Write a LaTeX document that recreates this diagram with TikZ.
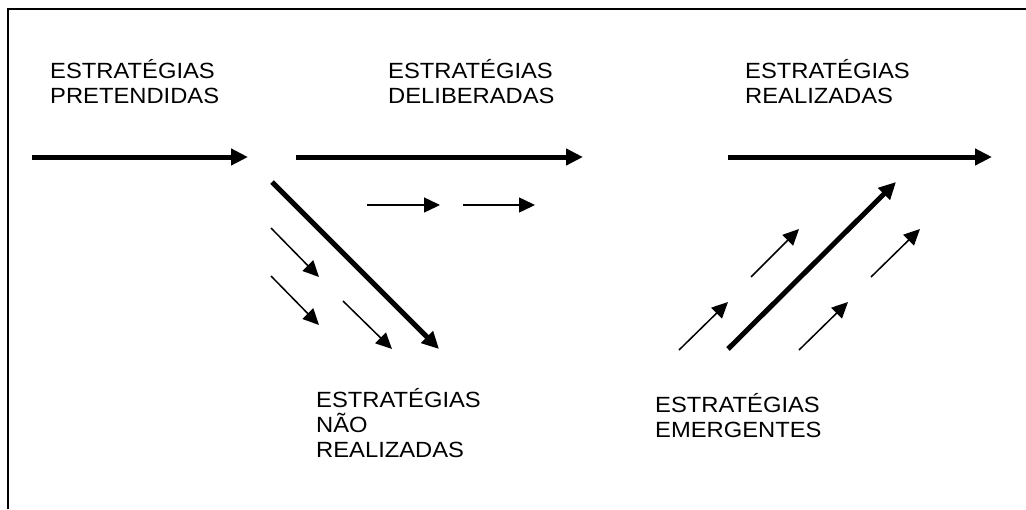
\documentclass[tikz,border=0pt]{standalone}
\usepackage{fontspec}
\setmainfont{Liberation Sans}[FakeStretch=1.08]
\usetikzlibrary{arrows.meta}
\tikzset{
  thickarrow/.style={line width=5pt,-{Triangle[length=17pt,width=16pt]}},
  thinarrow/.style={line width=1.5pt,-{Triangle[length=16pt,width=15pt]}},
  frameline/.style={line width=2pt},
  label/.style={anchor=base west,inner sep=0pt,align=left,font=\fontsize{22}{25}\selectfont}
}
\begin{document}
\begin{tikzpicture}[x=1pt,y=-1pt]
\useasboundingbox (0,0) rectangle (1026,509);
% frame
\coordinate (f1) at (7.5,509);
\coordinate (f2) at (7.5,9);
\coordinate (f3) at (1026,9);
\draw[frameline] (f1) -- (f2) -- (f3);
% labels (base anchor = baseline of the last line)
\node[label] (lp) at (50,103) {ESTRATÉGIAS\\PRETENDIDAS};
\node[label] (ld) at (388,103) {ESTRATÉGIAS\\DELIBERADAS};
\node[label] (lr) at (745,103) {ESTRATÉGIAS\\REALIZADAS};
\node[label] (ln) at (316,457) {ESTRATÉGIAS\\NÃO\\REALIZADAS};
\node[label] (le) at (655,437) {ESTRATÉGIAS\\EMERGENTES};
% thick horizontal arrows
\coordinate (a1s) at (32,157);  \coordinate (a1e) at (248,157);
\coordinate (a2s) at (296,157); \coordinate (a2e) at (583,157);
\coordinate (a3s) at (728,157); \coordinate (a3e) at (992,157);
\draw[thickarrow] (a1s) -- (a1e);
\draw[thickarrow] (a2s) -- (a2e);
\draw[thickarrow] (a3s) -- (a3e);
% unrealized
\coordinate (d0s) at (272,182); \coordinate (d0e) at (439,349);
\draw[thickarrow] (d0s) -- (d0e);
\coordinate (d1s) at (271,228); \coordinate (d1e) at (319,277);
\coordinate (d2s) at (271,276); \coordinate (d2e) at (319,325);
\coordinate (d3s) at (343,301); \coordinate (d3e) at (392,349);
\draw[thinarrow] (d1s) -- (d1e);
\draw[thinarrow] (d2s) -- (d2e);
\draw[thinarrow] (d3s) -- (d3e);
% thin horizontals
\coordinate (h1s) at (367,205); \coordinate (h1e) at (440,205);
\coordinate (h2s) at (463,205); \coordinate (h2e) at (535,205);
\draw[thinarrow] (h1s) -- (h1e);
\draw[thinarrow] (h2s) -- (h2e);
% emergent
\coordinate (u0s) at (728,349); \coordinate (u0e) at (896,182);
\draw[thickarrow] (u0s) -- (u0e);
\coordinate (u1s) at (679,350); \coordinate (u1e) at (728,302);
\coordinate (u2s) at (751,277); \coordinate (u2e) at (799,229);
\coordinate (u3s) at (799,350); \coordinate (u3e) at (848,302);
\coordinate (u4s) at (871,277); \coordinate (u4e) at (920,229);
\draw[thinarrow] (u1s) -- (u1e);
\draw[thinarrow] (u2s) -- (u2e);
\draw[thinarrow] (u3s) -- (u3e);
\draw[thinarrow] (u4s) -- (u4e);
\end{tikzpicture}
\end{document}
